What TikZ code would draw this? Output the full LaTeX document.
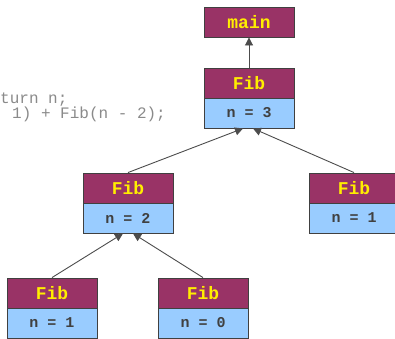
\documentclass[tikz,border=0pt]{standalone}
\usepackage{fontspec}
\setmonofont{Liberation Mono}
\usetikzlibrary{arrows.meta,positioning}
\definecolor{maroon}{HTML}{993366}
\definecolor{lblue}{HTML}{99CCFF}
\definecolor{yel}{HTML}{FFEE00}
\definecolor{edge}{HTML}{404040}
\definecolor{codegray}{HTML}{8A8A8A}
\tikzset{
  boxbase/.style={draw=edge, line width=0.9pt, minimum width=90pt, minimum height=30pt, inner sep=0pt, font=\ttfamily\bfseries},
  head/.style={boxbase, fill=maroon, text=yel, font=\ttfamily\bfseries\fontsize{18}{18}\selectfont},
  bodybox/.style={boxbase, fill=lblue, text=black!75, font=\ttfamily\bfseries\fontsize{15}{15}\selectfont},
  link/.style={draw=black!70, line width=0.9pt, -{Triangle[length=8pt,width=8pt]}},
  code/.style={anchor=base west, inner sep=0pt, text=codegray, font=\ttfamily\fontsize{16}{16}\selectfont}
}
\begin{document}
\begin{tikzpicture}[x=1pt,y=-1pt]
\useasboundingbox (0,0) rectangle (395,338);
\begin{scope}
\clip (0,0) rectangle (395,338);
% code fragment
\node[code] (c1) at (0,103) {turn n;};
\node[code] (c2) at (12,118) {1) + Fib(n - 2);};
% main
\node[head] (main) at (249,22) {main};
% Fib 3
\node[head] (f3h) at (249,83) {Fib};
\node[bodybox] (f3b) at (249,113) {n = 3};
% Fib 2
\node[head] (f2h) at (128,188) {Fib};
\node[bodybox] (f2b) at (128,218) {n = 2};
% Fib 1 right
\node[head] (f1rh) at (354,188) {Fib};
\node[bodybox] (f1rb) at (354,218) {n = 1};
% Fib 1 left
\node[head] (f1lh) at (52,293) {Fib};
\node[bodybox] (f1lb) at (52,323) {n = 1};
% Fib 0
\node[head] (f0h) at (203,293) {Fib};
\node[bodybox] (f0b) at (203,323) {n = 0};
% connectors
\coordinate (f3l) at ([xshift=-6pt]f3b.south);
\coordinate (f3r) at ([xshift=4pt]f3b.south);
\coordinate (f2l) at ([xshift=-5pt]f2b.south);
\coordinate (f2r) at ([xshift=5pt]f2b.south);
\draw[link] (f3h.north) -- (main.south);
\draw[link] (f2h.north) -- (f3l);
\draw[link] (f1rh.north) -- (f3r);
\draw[link] (f1lh.north) -- (f2l);
\draw[link] (f0h.north) -- (f2r);
\end{scope}
\end{tikzpicture}
\end{document}
